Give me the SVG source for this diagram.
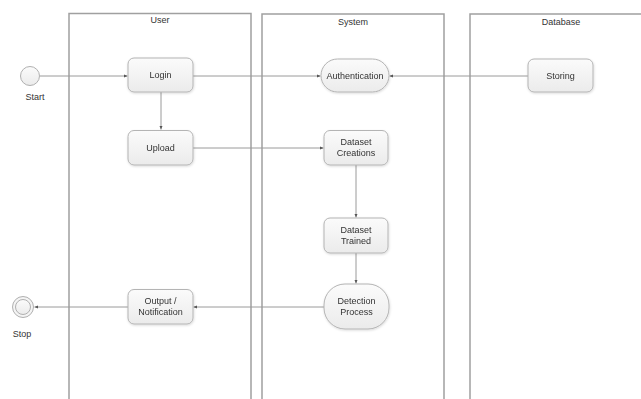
<svg xmlns="http://www.w3.org/2000/svg" width="641" height="399" viewBox="0 0 641 399">
<style>
.lane{fill:none;stroke:#a0a0a0;stroke-width:1.5}
.node{fill:url(#g);stroke:#b4b4b4;stroke-width:1}
.t{font-family:"Liberation Sans",Arial,sans-serif;font-size:9px;fill:#333;text-anchor:middle}
.c{fill:none;stroke:#9a9a9a;stroke-width:1}
</style>
<defs>
<linearGradient id="g" x1="0" y1="0" x2="0" y2="1">
<stop offset="0" stop-color="#fbfbfb"/>
<stop offset="1" stop-color="#ebebeb"/>
</linearGradient>
<filter id="sh" x="-20%" y="-20%" width="140%" height="150%">
<feDropShadow dx="0.5" dy="1" stdDeviation="0.8" flood-color="#000" flood-opacity="0.15"/>
</filter>
<marker id="a" markerWidth="4" markerHeight="4" refX="3.5" refY="2" orient="auto" markerUnits="userSpaceOnUse">
<path d="M0,0.5 L3.5,2 L0,3.5 z" fill="#555"/>
</marker>
</defs>
<rect width="641" height="399" fill="#fff"/>
<g id="lanes">
<path class="lane" d="M69,400 V13.5 H251 V400"/>
<path class="lane" d="M262,400 V14 H444 V400"/>
<path class="lane" d="M470,400 V14 H642"/>
<text class="t" x="160" y="23">User</text>
<text class="t" x="353" y="25">System</text>
<text class="t" x="561" y="25">Database</text>
</g>
<g id="connectors">
<path class="c" d="M40,76 H127.5" marker-end="url(#a)"/>
<path class="c" d="M193,76 H320.5" marker-end="url(#a)"/>
<path class="c" d="M528,76 H389.5" marker-end="url(#a)"/>
<path class="c" d="M161,92 V129.5" marker-end="url(#a)"/>
<path class="c" d="M193,148 H323.5" marker-end="url(#a)"/>
<path class="c" d="M356,165 V217.5" marker-end="url(#a)"/>
<path class="c" d="M356,253 V283.5" marker-end="url(#a)"/>
<path class="c" d="M324,307 H193.5" marker-end="url(#a)"/>
<path class="c" d="M128,307 H34.5" marker-end="url(#a)"/>
</g>
<g id="start">
<circle cx="30" cy="76" r="9.5" fill="url(#g)" stroke="#b0b0b0" stroke-width="1"/>
<text class="t" x="35" y="100">Start</text>
</g>
<g id="stop">
<circle cx="23" cy="307" r="10.5" fill="#f4f4f4" stroke="#b0b0b0" stroke-width="1"/>
<circle cx="23" cy="307" r="7.5" fill="url(#g)" stroke="#b0b0b0" stroke-width="1"/>
<text class="t" x="22" y="337">Stop</text>
</g>
<g id="login" filter="url(#sh)">
<rect class="node" x="128" y="58" width="65" height="34" rx="6"/>
<text class="t" x="160.5" y="78">Login</text>
</g>
<g id="upload" filter="url(#sh)">
<rect class="node" x="128" y="130.5" width="65" height="34.5" rx="6"/>
<text class="t" x="160.5" y="151">Upload</text>
</g>
<g id="output" filter="url(#sh)">
<rect class="node" x="128" y="289.5" width="65" height="34.5" rx="6"/>
<text class="t" x="160.5" y="304">Output /</text>
<text class="t" x="160.5" y="315">Notification</text>
</g>
<g id="authentication" filter="url(#sh)">
<rect class="node" x="321" y="59" width="68" height="33" rx="16.5"/>
<text class="t" x="355" y="79">Authentication</text>
</g>
<g id="dataset-creations" filter="url(#sh)">
<rect class="node" x="324" y="130.5" width="64" height="34.5" rx="6"/>
<text class="t" x="356" y="145">Dataset</text>
<text class="t" x="356" y="156">Creations</text>
</g>
<g id="dataset-trained" filter="url(#sh)">
<rect class="node" x="324" y="218" width="64" height="35" rx="6"/>
<text class="t" x="356" y="233">Dataset</text>
<text class="t" x="356" y="244">Trained</text>
</g>
<g id="detection-process" filter="url(#sh)">
<rect class="node" x="324" y="284" width="65" height="45" rx="21"/>
<text class="t" x="356.5" y="304">Detection</text>
<text class="t" x="356.5" y="315">Process</text>
</g>
<g id="storing" filter="url(#sh)">
<rect class="node" x="528" y="59" width="65" height="33" rx="6"/>
<text class="t" x="560.5" y="79">Storing</text>
</g>
</svg>
